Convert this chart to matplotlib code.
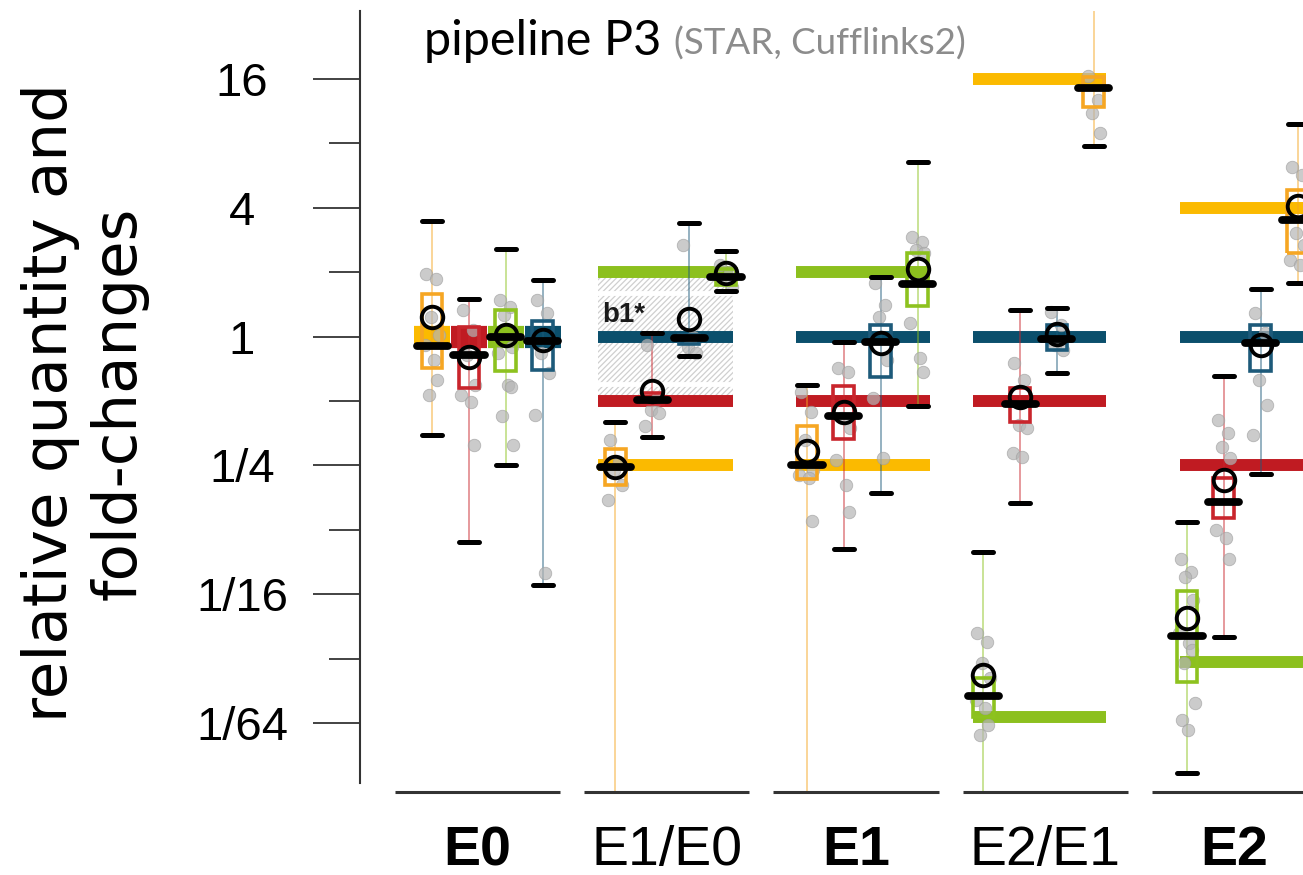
import numpy as np
import matplotlib
matplotlib.use("Agg")
from matplotlib import pyplot as plt, ticker
from matplotlib.patches import Rectangle

# ---- data (log2 of relative quantity / fold-change) ----
groups = ["E0", "E1/E0", "E1", "E2/E1", "E2"]
bold_groups = ["E0", "E1", "E2"]
series = ["orange", "red", "green", "blue"]

# rows = groups, columns = series (orange, red, green, blue); +-12 means "beyond the axis"
whisker_hi = np.array([
    [1.80, 0.59, 1.36, 0.88],
    [-1.32, 0.05, 1.33, 1.76],
    [-0.75, -0.08, 2.72, 0.92],
    [12.0, 0.41, -3.35, 0.44],
    [3.31, -0.61, -2.87, 0.74],
])
whisker_lo = np.array([
    [-1.53, -3.19, -2.00, -3.86],
    [-12.0, -1.56, 0.71, -0.30],
    [-12.0, -3.30, -1.08, -2.43],
    [2.96, -2.58, -12.0, -0.57],
    [0.83, -4.66, -6.78, -2.13],
])
q3 = np.array([
    [0.66, 0.15, 0.41, 0.24],
    [-1.74, -0.88, 1.05, 0.03],
    [-1.39, -0.77, 1.30, 0.18],
    [4.03, -0.80, -5.30, 0.18],
    [2.28, -2.20, -3.95, 0.18],
])
q1 = np.array([
    [-0.49, -0.80, -0.53, -0.52],
    [-2.30, -1.05, 0.80, -0.12],
    [-2.21, -1.59, 0.47, -0.62],
    [3.56, -1.32, -5.90, -0.20],
    [1.30, -2.82, -5.36, -0.53],
])
median = np.array([
    [-0.14, -0.28, 0.00, -0.06],
    [-2.02, -0.98, 0.93, -0.02],
    [-1.99, -1.23, 0.82, -0.08],
    [3.86, -1.04, -5.58, -0.04],
    [1.81, -2.57, -4.65, -0.10],
])
mean = np.array([
    [0.31, -0.32, 0.03, -0.05],
    [-2.02, -0.84, 0.99, 0.28],
    [-1.77, -1.17, 1.05, -0.10],
    [np.nan, -0.94, -5.25, 0.04],
    [2.03, -2.23, -4.37, -0.13],
])
expected = np.array([
    [0.0, 0.0, 0.0, 0.0],
    [-2.0, -1.0, 1.0, 0.0],
    [-2.0, -1.0, 1.0, 0.0],
    [4.0, -1.0, -5.9, 0.0],
    [2.0, -2.0, -5.05, 0.0],
])

# single replicates per box (orange, red, green, blue)
pts_E0 = [
    [0.97, 0.89, 0.31, 0.03, -0.13, -0.36, -0.67, -0.91],
    [0.41, 0.10, -0.28, -0.75, -0.91, -1.01, -1.68],
    [0.57, 0.46, 0.34, -0.16, -0.25, -0.75, -0.78, -1.23, -1.68],
    [0.57, 0.37, -0.25, -0.56, -1.22, -3.67],
]
pts_E1E0 = [
    [-1.61, -1.95, -2.07, -2.30, -2.54],
    [-0.13, -0.98, -1.14, -1.19, -1.38],
    [1.11, 1.00, 0.88, 0.77],
    [1.42, 0.00, -0.16, -0.25],
]
pts_E1 = [
    [-0.86, -1.17, -1.61, -2.07, -2.15, -2.20, -2.86],
    [-0.49, -0.55, -1.26, -1.42, -1.92, -2.30, -2.72],
    [1.55, 1.47, 1.35, 1.30, 0.21, -0.33, -0.55],
    [0.83, 0.49, 0.31, -0.36, -0.95, -1.88],
]
pts_E2E1 = [
    [4.05, 3.68, 3.47, 3.16],
    [-0.41, -0.67, -1.37, -1.42, -1.81, -1.87],
    [-4.60, -4.74, -5.07, -5.30, -5.64, -5.76, -6.03, -6.18],
    [0.38, 0.18, -0.13, -0.21],
]
pts_E2 = [
    [2.64, 2.51, 1.61, 1.42, 1.19, 1.11],
    [-1.29, -1.50, -1.71, -1.88, -3.00, -3.13, -3.45],
    [-3.45, -3.65, -3.73, -4.09, -4.60, -4.76, -4.87, -5.07, -5.69, -5.95, -6.11],
    [0.37, 0.06, -0.67, -1.06, -1.53],
]
points = [pts_E0, pts_E1E0, pts_E1, pts_E2E1, pts_E2]

# ---- layout / style ----
line_colors = ["#FBBA00", "#C01B22", "#8CC01E", "#0B4F6C"]
box_colors = ["#F6A623", "#C9252C", "#8DC21F", "#1D5A7A"]
slot_order = [[0, 1, 2, 3], [0, 1, 3, 2], [0, 1, 3, 2], [3, 1, 0, 2], [3, 1, 0, 2]]
group_shift = [-0.240, -0.272, -0.259, -0.328, -0.251]
slot_step = 0.195
line_span = [None, (-0.363, 0.351), (-0.317, 0.391), (-0.381, 0.322), (-0.289, 0.6)]
jitter = [-0.030, 0.022, -0.008, 0.034, -0.040, 0.010, 0.028, -0.018, 0.040, -0.025, 0.004]

W, H = 1303, 875
fig = plt.figure(figsize=(W / 100, H / 100), dpi=100)
ax = fig.add_axes([360 / W, 1 - 792 / H, 943 / W, 781 / H])
ax.set_yscale("log", base=2)
ylo, yhi = -7.07, 5.057
ax.set_ylim(2 ** ylo, 2 ** yhi)
ax.set_xlim(-0.6209, 4.362)

p2 = lambda v: 2.0 ** np.asarray(v, dtype=float)

# hatched band for b1* in E1/E0
plt.rcParams["hatch.linewidth"] = 0.9
hx0, hx1 = 1 - 0.362, 1 + 0.351
ax.add_patch(Rectangle((hx0, 0.5), hx1 - hx0, 1.5, hatch="//////", facecolor="white",
                       edgecolor="#cfcfcf", lw=0, zorder=0.5))
for lv in (0.68, -0.74):
    ax.plot([hx0, hx1], p2([lv, lv]), color="white", lw=3.5, zorder=0.6)
ax.text(1 - 0.341, 2 ** 0.33, "b1*", fontsize=20, fontweight="bold", family="Liberation Sans",
        color="#1a1a1a", ha="left", va="center", zorder=0.7)

for g in range(len(groups)):
    for s in range(len(series)):
        x = g + group_shift[g] + slot_step * slot_order[g][s]
        col, bcol = line_colors[s], box_colors[s]

        # expected value
        if line_span[g] is None:
            ax.plot([x - 0.095, x + 0.095], p2([expected[g, s]] * 2), color=col, lw=16,
                    solid_capstyle="butt", zorder=1)
        else:
            a, b = line_span[g]
            ax.plot([g + a, g + b], p2([expected[g, s]] * 2), color=col, lw=8.6,
                    solid_capstyle="butt", zorder=1)

        # whisker
        ax.plot([x, x], p2([whisker_lo[g, s], whisker_hi[g, s]]), color=bcol, lw=1.2,
                alpha=0.55, zorder=2)

        # replicates
        pts = points[g][s]
        xs = [x + jitter[i % len(jitter)] for i in range(len(pts))]
        ax.plot(xs, p2(pts), "o", ms=9, color="#b5b5b5", mec="#a0a0a0", mew=0.6,
                alpha=0.7, zorder=3)

        # box
        lo_b, hi_b = 2 ** q1[g, s], 2 ** q3[g, s]
        ax.add_patch(Rectangle((x - 0.055, lo_b), 0.11, hi_b - lo_b, facecolor="none",
                               edgecolor=bcol, lw=2.6, zorder=4))

        # caps
        for v in (whisker_lo[g, s], whisker_hi[g, s]):
            ax.plot([x - 0.053, x + 0.053], p2([v, v]), color="black", lw=3.6,
                    solid_capstyle="round", zorder=5)

        # median
        ax.plot([x - 0.082, x + 0.082], p2([median[g, s]] * 2), color="black", lw=5.6,
                solid_capstyle="round", zorder=6)

        # mean
        if not np.isnan(mean[g, s]):
            ax.plot([x], p2([mean[g, s]]), "o", ms=15.5, mfc="none", mec="black",
                    mew=2.8, zorder=7)

# group baselines
for g in range(len(groups)):
    ax.plot([g - 0.436, g + 0.436], [2 ** ylo] * 2, color="#333333", lw=2.2,
            solid_capstyle="butt", clip_on=False, zorder=8)

# axes styling
for side in ("top", "right", "bottom"):
    ax.spines[side].set_visible(False)
ax.spines["left"].set_linewidth(1.5)
ax.spines["left"].set_color("#333333")
ax.spines["left"].set_bounds(2 ** -6.93, 2 ** yhi)

major = [-6, -4, -2, 0, 2, 4]
major_labels = ["1/64", "1/16", "1/4", "1", "4", "16"]
ax.yaxis.set_major_locator(ticker.FixedLocator(p2(major)))
ax.yaxis.set_major_formatter(ticker.FixedFormatter(major_labels))
ax.yaxis.set_minor_locator(ticker.FixedLocator(p2([-5, -3, -1, 1, 3])))
ax.yaxis.set_minor_formatter(ticker.NullFormatter())
ax.tick_params(axis="y", which="major", length=34, width=1.2, color="#222222", pad=51,
               labelsize=34)
ax.tick_params(axis="y", which="minor", length=22, width=1.2, color="#222222")
for lbl in ax.get_yticklabels():
    lbl.set_ha("center")
    lbl.set_family("Liberation Sans")

ax.set_xticks(range(len(groups)), groups)
ax.tick_params(axis="x", length=0, pad=24, labelsize=40)
for lbl in ax.get_xticklabels():
    lbl.set_family("Liberation Sans")
    if lbl.get_text() in bold_groups:
        lbl.set_fontweight("bold")

fig.text(85 / W, 1 - 403 / H, "relative quantity and\nfold-changes", rotation=90,
         ha="center", va="center", multialignment="center", fontsize=44,
         family="DejaVu Sans", linespacing=1.2)

t1 = fig.text(424 / W, 1 - 55 / H, "pipeline P3", fontsize=35, family="Lato",
              color="black", ha="left", va="baseline")
ax.annotate("(STAR, Cufflinks2)", xy=(1, 0), xycoords=t1, xytext=(9, 2),
            textcoords="offset points", fontsize=26.5, family="Lato", color="#8c8c8c",
            ha="left", va="bottom", annotation_clip=False)

fig.savefig("out.png", dpi=100)
